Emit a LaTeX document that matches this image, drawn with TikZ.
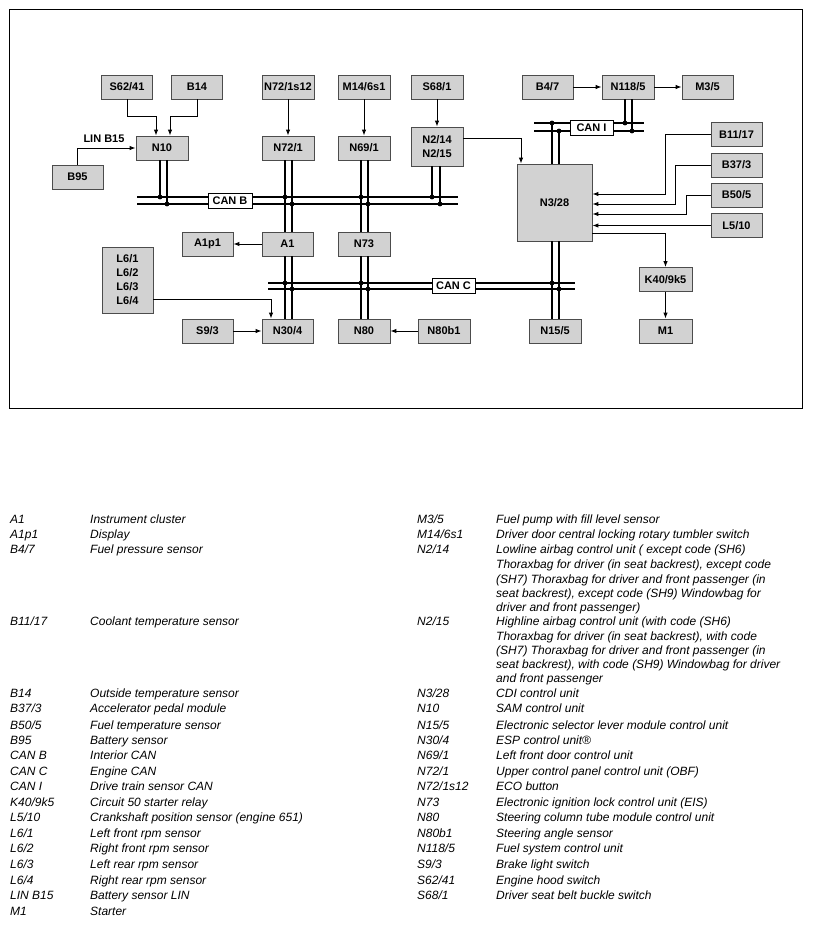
\documentclass[tikz,border=0pt]{standalone}
\usepackage{fontspec}
\setmainfont{Liberation Sans}
\usetikzlibrary{arrows.meta,calc}
\begin{document}
\begin{tikzpicture}[x=1pt,y=-1pt,
  box/.style={draw=black!70, fill=gray!35, line width=0.8pt, inner sep=1pt,
    minimum width=51pt, minimum height=24pt, align=center,
    font=\bfseries\fontsize{11}{14.5}\selectfont},
  canlbl/.style={draw=black, fill=white, line width=0.8pt, inner sep=1pt,
    minimum height=15pt, font=\bfseries\fontsize{11}{12}\selectfont},
  arr/.style={line width=1pt, -{Latex[length=6pt,width=4.5pt]}},
  bus/.style={line width=1.8pt},
  vl/.style={line width=1.6pt},
  dot/.style={fill=black},
  leg/.style={anchor=west, inner sep=0pt, text height=8.5pt, text depth=2.5pt,
    font=\itshape\fontsize{12}{13}\selectfont}
]
\useasboundingbox (0,0) rectangle (812,926);
\draw[line width=0.8pt] (9,9) rectangle (802,408);

% ---------- top row ----------
\node[box] (s6241) at (127,87) {S62/41};
\node[box] (b14) at (197,87) {B14};
\node[box, minimum width=52pt] (n721s12) at (288,87) {N72/1s12};
\node[box, minimum width=52pt] (m146s1) at (364,87) {M14/6s1};
\node[box, minimum width=52pt] (s681) at (437,87) {S68/1};
\node[box] (b47) at (547.5,87) {B4/7};
\node[box, minimum width=52pt] (n1185) at (628,87) {N118/5};
\node[box] (m35) at (707.5,87) {M3/5};

% ---------- second row ----------
\node[box, minimum width=52pt] (n10) at (162,148) {N10};
\node[box, minimum width=52pt] (n721) at (288,148) {N72/1};
\node[box, minimum width=52pt] (n691) at (364,148) {N69/1};
\node[box, minimum width=52pt, minimum height=39pt] (n2) at (437,146.5) {N2/14\\N2/15};
\node[box] (b95) at (77.5,177) {B95};

% ---------- N3/28 and right column ----------
\node[box, minimum width=75pt, minimum height=77pt] (n328) at (554.5,202.5) {N3/28};
\node[box] (b1117) at (736.5,134.5) {B11/17};
\node[box] (b373) at (736.5,165) {B37/3};
\node[box] (b505) at (736.5,195) {B50/5};
\node[box] (l510) at (736.5,225.5) {L5/10};
\node[box, minimum width=53pt] (k40) at (665.5,279.5) {K40/9k5};
\node[box, minimum width=53pt] (m1) at (665.5,331) {M1};

% ---------- middle / bottom rows ----------
\node[box] (a1p1) at (207.5,244) {A1p1};
\node[box] (a1) at (287.5,244) {A1};
\node[box, minimum width=52pt] (n73) at (364,244) {N73};
\node[box, minimum height=66pt, font=\bfseries\fontsize{11}{14}\selectfont] (l6) at (127.5,280) {L6/1\\L6/2\\L6/3\\L6/4};
\node[box] (s93) at (207.5,331) {S9/3};
\node[box] (n304) at (287.5,331) {N30/4};
\node[box, minimum width=52pt] (n80) at (364,331) {N80};
\node[box, minimum width=52pt] (n80b1) at (444,331) {N80b1};
\node[box, minimum width=52pt] (n155) at (555,331) {N15/5};

% ---------- bus coordinates ----------
\coordinate (bBt) at (137,197);  \coordinate (bBtE) at (458,197);
\coordinate (bBb) at (137,204);  \coordinate (bBbE) at (458,204);
\coordinate (bCt) at (268,283);  \coordinate (bCtE) at (575,283);
\coordinate (bCb) at (268,289);  \coordinate (bCbE) at (575,289);
\coordinate (bIt) at (534,123);  \coordinate (bItE) at (644,123);
\coordinate (bIb) at (534,131);  \coordinate (bIbE) at (644,131);

\draw[bus] (bBt) -- (bBtE); \draw[bus] (bBb) -- (bBbE);
\draw[bus] (bCt) -- (bCtE); \draw[bus] (bCb) -- (bCbE);
\draw[bus] (bIt) -- (bItE); \draw[bus] (bIb) -- (bIbE);

% ---------- vertical bus taps ----------
% N10
\draw[vl] ([xshift=-2pt]n10.south) -- ([xshift=-2pt]n10.south |- bBt);
\draw[vl] ([xshift=5pt]n10.south) -- ([xshift=5pt]n10.south |- bBb);
\fill[dot] ([xshift=-2pt]n10.south |- bBt) circle (2.4pt);
\fill[dot] ([xshift=5pt]n10.south |- bBb) circle (2.4pt);
% N72/1 - A1 - N30/4
\draw[vl] ([xshift=-3pt]n721.south) -- ([xshift=-3pt]n721.south |- a1.north);
\draw[vl] ([xshift=4pt]n721.south) -- ([xshift=4pt]n721.south |- a1.north);
\draw[vl] ([xshift=-2.5pt]a1.south) -- ([xshift=-2.5pt]n304.north);
\draw[vl] ([xshift=4.5pt]a1.south) -- ([xshift=4.5pt]n304.north);
\fill[dot] ([xshift=-3pt]n721.south |- bBt) circle (2.4pt);
\fill[dot] ([xshift=4pt]n721.south |- bBb) circle (2.4pt);
\fill[dot] ([xshift=-2.5pt]a1.south |- bCt) circle (2.4pt);
\fill[dot] ([xshift=4.5pt]a1.south |- bCb) circle (2.4pt);
% N69/1 - N73 - N80
\draw[vl] ([xshift=-3pt]n691.south) -- ([xshift=-3pt]n73.north);
\draw[vl] ([xshift=4pt]n691.south) -- ([xshift=4pt]n73.north);
\draw[vl] ([xshift=-3pt]n73.south) -- ([xshift=-3pt]n80.north);
\draw[vl] ([xshift=4pt]n73.south) -- ([xshift=4pt]n80.north);
\fill[dot] ([xshift=-3pt]n691.south |- bBt) circle (2.4pt);
\fill[dot] ([xshift=4pt]n691.south |- bBb) circle (2.4pt);
\fill[dot] ([xshift=-3pt]n73.south |- bCt) circle (2.4pt);
\fill[dot] ([xshift=4pt]n73.south |- bCb) circle (2.4pt);
% N2/14
\draw[vl] ([xshift=-5pt]n2.south) -- ([xshift=-5pt]n2.south |- bBt);
\draw[vl] ([xshift=3pt]n2.south) -- ([xshift=3pt]n2.south |- bBb);
\fill[dot] ([xshift=-5pt]n2.south |- bBt) circle (2.4pt);
\fill[dot] ([xshift=3pt]n2.south |- bBb) circle (2.4pt);
% N3/28 up to CAN I
\draw[vl] ([xshift=-2.5pt]n328.north) -- ([xshift=-2.5pt]n328.north |- bIt);
\draw[vl] ([xshift=4.5pt]n328.north) -- ([xshift=4.5pt]n328.north |- bIb);
\fill[dot] ([xshift=-2.5pt]n328.north |- bIt) circle (2.4pt);
\fill[dot] ([xshift=4.5pt]n328.north |- bIb) circle (2.4pt);
% N118/5 down to CAN I
\draw[vl] ([xshift=-3pt]n1185.south) -- ([xshift=-3pt]n1185.south |- bIt);
\draw[vl] ([xshift=4pt]n1185.south) -- ([xshift=4pt]n1185.south |- bIb);
\fill[dot] ([xshift=-3pt]n1185.south |- bIt) circle (2.4pt);
\fill[dot] ([xshift=4pt]n1185.south |- bIb) circle (2.4pt);
% N3/28 down to N15/5
\draw[vl] ([xshift=-2.5pt]n328.south) -- ([xshift=-2.5pt]n328.south |- n155.north);
\draw[vl] ([xshift=4.5pt]n328.south) -- ([xshift=4.5pt]n328.south |- n155.north);
\fill[dot] ([xshift=-2.5pt]n328.south |- bCt) circle (2.4pt);
\fill[dot] ([xshift=4.5pt]n328.south |- bCb) circle (2.4pt);

% ---------- CAN labels ----------
\node[canlbl, minimum width=44pt] (canb) at (230,201) {CAN B};
\node[canlbl, minimum width=43pt] (canc) at (453.5,286) {CAN C};
\node[canlbl, minimum width=43pt] (cani) at (591.5,127.5) {CAN I};

% ---------- arrows ----------
\draw[arr] (s6241.south) -- ++(0,17) -| ([xshift=-6pt]n10.north);
\draw[arr] (b14.south) -- ++(0,17) -| ([xshift=8pt]n10.north);
\draw[arr] (b95.north) |- (n10.west);
\node[font=\bfseries\fontsize{11}{12}\selectfont, inner sep=0pt] (linb15) at (104,139) {LIN B15};
\draw[arr] (n721s12.south) -- (n721.north);
\draw[arr] (m146s1.south) -- (n691.north);
\draw[arr] (s681.south) -- (n2.north);
\draw[arr] (b47.east) -- (n1185.west);
\draw[arr] (n1185.east) -- (m35.west);
\draw[arr] ([yshift=-12pt]n2.north east) -| ([xshift=-33.5pt]n328.north);
\draw[arr] (b1117.west) -- ++(-45,0) |- ([yshift=8.5pt]n328.east);
\draw[arr] (b373.west) -- ++(-35,0) |- ([yshift=-1.5pt]n328.east);
\draw[arr] (b505.west) -- ++(-24,0) |- ([yshift=-11.5pt]n328.east);
\draw[arr] (l510.west) -- (l510.west -| n328.east);
\draw[arr] ([yshift=-30.5pt]n328.east) -| (k40.north);
\draw[arr] (k40.south) -- (m1.north);
\draw[arr] (a1.west) -- (a1p1.east);
\draw[arr] ([yshift=-19pt]l6.east) -| ([xshift=-16.5pt]n304.north);
\draw[arr] (s93.east) -- (n304.west);
\draw[arr] (n80b1.west) -- (n80.east);

% ---------- legend, left ----------
\node[leg] (lc1) at (10,520) {A1};        \node[leg] (ld1) at (90,520) {Instrument cluster};
\node[leg] (lc2) at (10,535) {A1p1};      \node[leg] (ld2) at (90,535) {Display};
\node[leg] (lc3) at (10,550) {B4/7};      \node[leg] (ld3) at (90,550) {Fuel pressure sensor};
\node[leg] (lc4) at (10,622) {B11/17};    \node[leg] (ld4) at (90,622) {Coolant temperature sensor};
\node[leg] (lc5) at (10,694) {B14};       \node[leg] (ld5) at (90,694) {Outside temperature sensor};
\node[leg] (lc6) at (10,709) {B37/3};     \node[leg] (ld6) at (90,709) {Accelerator pedal module};
\node[leg] (lc7) at (10,726) {B50/5};     \node[leg] (ld7) at (90,726) {Fuel temperature sensor};
\node[leg] (lc8) at (10,741) {B95};       \node[leg] (ld8) at (90,741) {Battery sensor};
\node[leg] (lc9) at (10,756) {CAN B};     \node[leg] (ld9) at (90,756) {Interior CAN};
\node[leg] (lc10) at (10,772) {CAN C};    \node[leg] (ld10) at (90,772) {Engine CAN};
\node[leg] (lc11) at (10,787) {CAN I};    \node[leg] (ld11) at (90,787) {Drive train sensor CAN};
\node[leg] (lc12) at (10,803) {K40/9k5};  \node[leg] (ld12) at (90,803) {Circuit 50 starter relay};
\node[leg] (lc13) at (10,818) {L5/10};    \node[leg] (ld13) at (90,818) {Crankshaft position sensor (engine 651)};
\node[leg] (lc14) at (10,834) {L6/1};     \node[leg] (ld14) at (90,834) {Left front rpm sensor};
\node[leg] (lc15) at (10,849) {L6/2};     \node[leg] (ld15) at (90,849) {Right front rpm sensor};
\node[leg] (lc16) at (10,865) {L6/3};     \node[leg] (ld16) at (90,865) {Left rear rpm sensor};
\node[leg] (lc17) at (10,881) {L6/4};     \node[leg] (ld17) at (90,881) {Right rear rpm sensor};
\node[leg] (lc18) at (10,896) {LIN B15};  \node[leg] (ld18) at (90,896) {Battery sensor LIN};
\node[leg] (lc19) at (10,912) {M1};       \node[leg] (ld19) at (90,912) {Starter};

% ---------- legend, right ----------
\node[leg] (rc1) at (417,520) {M3/5};     \node[leg] (rd1) at (496,520) {Fuel pump with fill level sensor};
\node[leg] (rc2) at (417,535) {M14/6s1};  \node[leg] (rd2) at (496,535) {Driver door central locking rotary tumbler switch};
\node[leg] (rc3) at (417,550) {N2/14};    \node[leg] (rd3) at (496,550) {Lowline airbag control unit ( except code (SH6)};
\node[leg] (rd3b) at (496,565) {Thoraxbag for driver (in seat backrest), except code};
\node[leg] (rd3c) at (496,580) {(SH7) Thoraxbag for driver and front passenger (in};
\node[leg] (rd3d) at (496,594) {seat backrest), except code (SH9) Windowbag for};
\node[leg] (rd3e) at (496,608) {driver and front passenger)};
\node[leg] (rc4) at (417,622) {N2/15};    \node[leg] (rd4) at (496,622) {Highline airbag control unit (with code (SH6)};
\node[leg] (rd4b) at (496,637) {Thoraxbag for driver (in seat backrest), with code};
\node[leg] (rd4c) at (496,651) {(SH7) Thoraxbag for driver and front passenger (in};
\node[leg] (rd4d) at (496,665) {seat backrest), with code (SH9) Windowbag for driver};
\node[leg] (rd4e) at (496,679) {and front passenger};
\node[leg] (rc5) at (417,694) {N3/28};    \node[leg] (rd5) at (496,694) {CDI control unit};
\node[leg] (rc6) at (417,709) {N10};      \node[leg] (rd6) at (496,709) {SAM control unit};
\node[leg] (rc7) at (417,726) {N15/5};    \node[leg] (rd7) at (496,726) {Electronic selector lever module control unit};
\node[leg] (rc8) at (417,741) {N30/4};    \node[leg] (rd8) at (496,741) {ESP control unit®};
\node[leg] (rc9) at (417,756) {N69/1};    \node[leg] (rd9) at (496,756) {Left front door control unit};
\node[leg] (rc10) at (417,772) {N72/1};   \node[leg] (rd10) at (496,772) {Upper control panel control unit (OBF)};
\node[leg] (rc11) at (417,787) {N72/1s12};\node[leg] (rd11) at (496,787) {ECO button};
\node[leg] (rc12) at (417,803) {N73};     \node[leg] (rd12) at (496,803) {Electronic ignition lock control unit (EIS)};
\node[leg] (rc13) at (417,818) {N80};     \node[leg] (rd13) at (496,818) {Steering column tube module control unit};
\node[leg] (rc14) at (417,834) {N80b1};   \node[leg] (rd14) at (496,834) {Steering angle sensor};
\node[leg] (rc15) at (417,849) {N118/5};  \node[leg] (rd15) at (496,849) {Fuel system control unit};
\node[leg] (rc16) at (417,865) {S9/3};    \node[leg] (rd16) at (496,865) {Brake light switch};
\node[leg] (rc17) at (417,881) {S62/41};  \node[leg] (rd17) at (496,881) {Engine hood switch};
\node[leg] (rc18) at (417,896) {S68/1};   \node[leg] (rd18) at (496,896) {Driver seat belt buckle switch};
\end{tikzpicture}
\end{document}
